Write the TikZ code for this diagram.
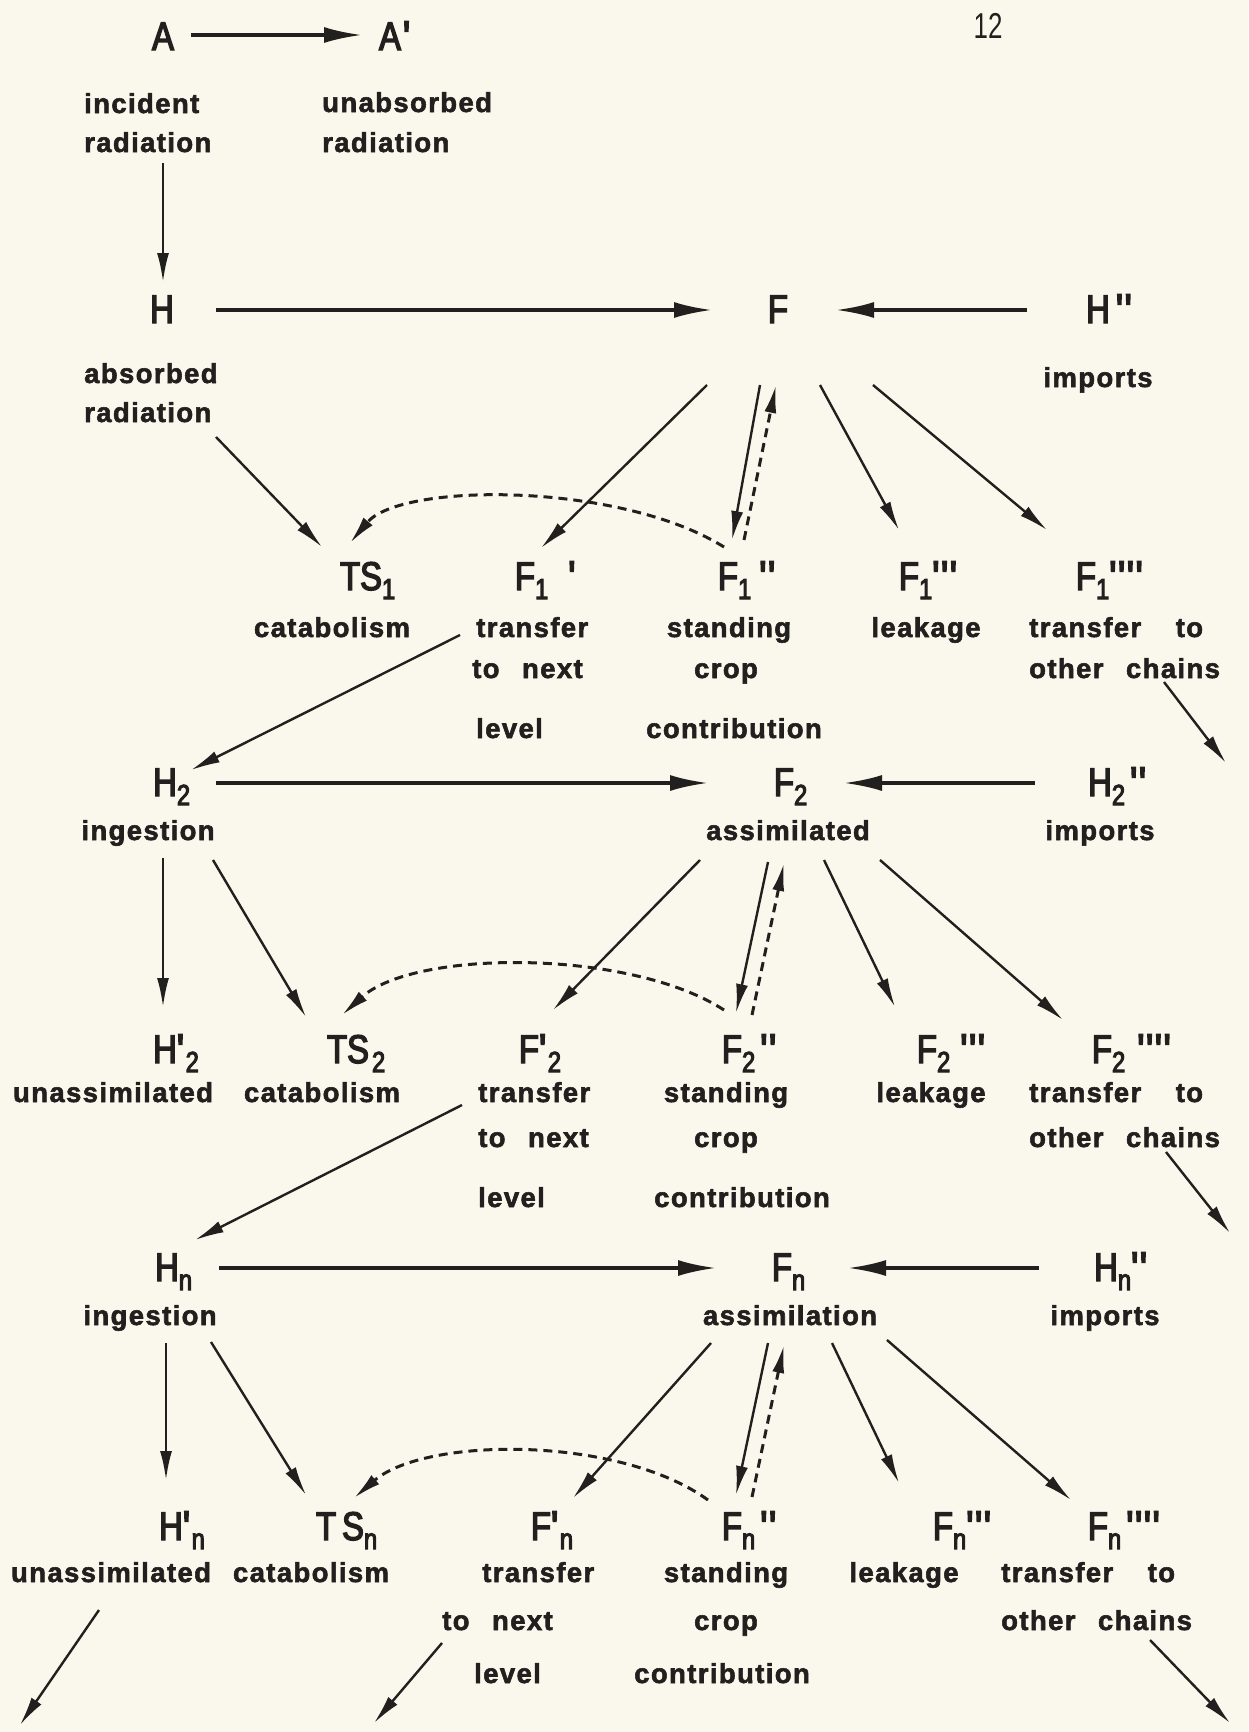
\documentclass[tikz,border=0pt]{standalone}
\usepackage{fontspec}
\setmainfont{Liberation Sans}
\newfontfamily\symfont{Liberation Sans}[FakeStretch=0.82,FakeBold=3.5]
\newfontfamily\labfont{Liberation Sans}[LetterSpace=5,WordSpace=2.5,BoldFeatures={FakeBold=2}]
\newfontfamily\numfont{Liberation Sans}[FakeStretch=0.72]
\usetikzlibrary{arrows.meta,calc}
\definecolor{ink}{RGB}{34,32,30}
\definecolor{paper}{RGB}{250,248,236}
\newcommand\sq{\XeTeXglyph\XeTeXcharglyph"27\relax}
\newcommand\sbx[1]{\raisebox{-9pt}{\fontsize{29}{29}\selectfont #1}}
\newcommand\ppx[1]{\raisebox{-3pt}{\fontsize{46}{46}\selectfont #1}}
\tikzset{
  sym/.style={anchor=base, inner sep=0pt, font=\symfont\fontsize{40}{40}\selectfont, text=ink},
  lab/.style={anchor=base, inner sep=0pt, font=\labfont\bfseries\fontsize{27.5}{27.5}\selectfont, text=ink},
  labl/.style={lab, anchor=base west},
  arw/.style={draw=ink, line width=2.4pt, -{Latex[length=29pt,width=12pt]}},
  harw/.style={draw=ink, line width=3.4pt, -{Latex[length=38pt,width=16pt]}},
  dsh/.style={draw=ink, line width=3pt, dash pattern=on 9pt off 6pt, -{Latex[length=28pt,width=12pt]}},
}
\begin{document}
\begin{tikzpicture}[x=1pt,y=-1pt]
\fill[paper] (0,0) rectangle (1248,1732);
\useasboundingbox (0,0) rectangle (1248,1732);

% ---- top rows
\node[sym] (A) at (163,50) {A};
\node[sym] (Ap) at (390,50) {A\rlap{\hspace{2pt}\ppx{\sq}}};
\node[sym,font=\numfont\fontsize{36}{36}\selectfont] (pg) at (988,38) {12};
\node[labl] (inc1) at (84,113) {incident};
\node[labl] (inc2) at (84,152) {radiation};
\node[labl] (un1) at (322,112) {unabsorbed};
\node[labl] (un2) at (322,152) {radiation};
\node[sym] (H) at (162,323) {H};
\node[sym] (F) at (778,323) {F};
\node[sym] (Hpp) at (1098,323) {H\rlap{\hspace{6pt}\ppx{\sq\sq}}};
\node[labl] (ab1) at (84,383) {absorbed};
\node[labl] (ab2) at (84,422) {radiation};
\node[lab] (imp1) at (1098,387) {imports};

% ---- level 1 outputs
\node[sym] (TS1) at (361,590) {TS\rlap{\sbx{1}}};
\node[sym] (F1p) at (525,590) {F\rlap{\sbx{1}\hspace{20pt}\ppx{\sq}}};
\node[sym] (F1pp) at (728,590) {F\rlap{\sbx{1}\hspace{8pt}\ppx{\sq\sq}}};
\node[sym] (F1ppp) at (909,590) {F\rlap{\sbx{1}\ppx{\sq\sq\sq}}};
\node[sym] (F1pppp) at (1086,590) {F\rlap{\sbx{1}\ppx{\sq\sq\sq\sq}}};
\node[lab] (cat1) at (332,637) {catabolism};
\node[labl] (tr1a) at (476,637) {transfer};
\node[labl] (tr1b) at (472,678) {to next};
\node[labl] (tr1c) at (476,738) {level};
\node[lab] (st1a) at (729,637) {standing};
\node[lab] (st1b) at (726,678) {crop};
\node[lab] (st1c) at (734,738) {contribution};
\node[lab] (lk1) at (926,637) {leakage};
\node[labl] (oc1a) at (1029,637) {transfer\hspace{12pt} to};
\node[labl] (oc1b) at (1029,678) {other chains};

% ---- level 2
\node[sym] (H2) at (165,796) {H\rlap{\sbx{2}}};
\node[sym] (F2) at (784,796) {F\rlap{\sbx{2}}};
\node[sym] (H2pp) at (1100,796) {H\rlap{\sbx{2}\hspace{5pt}\ppx{\sq\sq}}};
\node[lab] (ing2) at (148,840) {ingestion};
\node[lab] (as2) at (788,840) {assimilated};
\node[lab] (imp2) at (1100,840) {imports};

\node[sym] (H2p) at (165,1063) {H\rlap{\ppx{\sq}\sbx{2}}};
\node[sym] (TS2) at (348,1063) {TS\rlap{\hspace{3pt}\sbx{2}}};
\node[sym] (F2p) at (529,1063) {F\rlap{\ppx{\sq}\sbx{2}}};
\node[sym] (F2pp) at (732,1063) {F\rlap{\sbx{2}\hspace{5pt}\ppx{\sq\sq}}};
\node[sym] (F2ppp) at (927,1063) {F\rlap{\sbx{2}\hspace{10pt}\ppx{\sq\sq\sq}}};
\node[sym] (F2pppp) at (1102,1063) {F\rlap{\sbx{2}\hspace{12pt}\ppx{\sq\sq\sq\sq}}};
\node[lab] (un3) at (113,1102) {unassimilated};
\node[lab] (cat3) at (322,1102) {catabolism};
\node[labl] (tr3a) at (478,1102) {transfer};
\node[labl] (tr3b) at (478,1147) {to next};
\node[labl] (tr3c) at (478,1207) {level};
\node[lab] (st3a) at (726,1102) {standing};
\node[lab] (st3b) at (726,1147) {crop};
\node[lab] (st3c) at (742,1207) {contribution};
\node[lab] (lk3) at (931,1102) {leakage};
\node[labl] (oc3a) at (1029,1102) {transfer\hspace{12pt} to};
\node[labl] (oc3b) at (1029,1147) {other chains};

% ---- level n
\node[sym] (Hn) at (167,1281) {H\rlap{\sbx{n}}};
\node[sym] (Fn) at (782,1281) {F\rlap{\sbx{n}}};
\node[sym] (Hnpp) at (1106,1281) {H\rlap{\sbx{n}\ppx{\sq\sq}}};
\node[lab] (ingn) at (150,1325) {ingestion};
\node[lab] (asn) at (790,1325) {assimilation};
\node[lab] (impn) at (1105,1325) {imports};

\node[sym] (Hnp) at (171,1540) {H\rlap{\ppx{\sq}\sbx{n}}};
\node[sym] (TSn) at (340,1540) {T\hspace{6pt}S\rlap{\sbx{n}}};
\node[sym] (Fnp) at (541,1540) {F\rlap{\ppx{\sq}\sbx{n}}};
\node[sym] (Fnpp) at (732,1540) {F\rlap{\sbx{n}\hspace{5pt}\ppx{\sq\sq}}};
\node[sym] (Fnppp) at (943,1540) {F\rlap{\sbx{n}\ppx{\sq\sq\sq}}};
\node[sym] (Fnpppp) at (1098,1540) {F\rlap{\sbx{n}\hspace{5pt}\ppx{\sq\sq\sq\sq}}};
\node[lab] (unn) at (111,1582) {unassimilated};
\node[lab] (catn) at (311,1582) {catabolism};
\node[labl] (trna) at (482,1582) {transfer};
\node[labl] (trnb) at (442,1630) {to next};
\node[labl] (trnc) at (474,1683) {level};
\node[lab] (stna) at (726,1582) {standing};
\node[lab] (stnb) at (726,1630) {crop};
\node[lab] (stnc) at (722,1683) {contribution};
\node[lab] (lkn) at (904,1582) {leakage};
\node[labl] (ocna) at (1001,1582) {transfer\hspace{12pt} to};
\node[labl] (ocnb) at (1001,1630) {other chains};

\coordinate (e13) at (1226,763);
\coordinate (e25) at (1230,1233);
\coordinate (e36) at (20,1725);
\coordinate (e37) at (374,1723);
\coordinate (e38) at (1230,1723);

% ---- connectors, top
\draw[harw] ($(A.base)+(28,-15)$) -- ($(Ap.base)+(-28,-15)$);
\draw[arw] ($(inc2.base west)+(79,11)$) -- ($(H.base)+(1,-41)$);
\draw[harw] ($(H.base)+(54,-13)$) -- ($(F.base)+(-66,-13)$);
\draw[harw] ($(Hpp.base)+(-71,-13)$) -- ($(F.base)+(58,-13)$);
\draw[arw] ($(ab2.base west)+(132,15)$) -- ($(TS1.base)+(-39,-43)$);
\draw[arw] ($(F.base)+(-71,62)$) -- ($(F1p.base)+(16,-42)$);
\draw[arw] ($(F.base)+(-18,62)$) -- ($(F1pp.base)+(4,-50)$);
\draw[dsh] ($(F1pp.base)+(16,-50)$) -- ($(F.base)+(-2,62)$);
\draw[arw] ($(F.base)+(42,62)$) -- ($(F1ppp.base)+(-10,-60)$);
\draw[arw] ($(F.base)+(95,62)$) -- ($(F1pppp.base)+(-39,-60)$);
\draw[dsh] ($(F1pp.base)+(-4,-43)$) .. controls +(-104,-65) and +(51,-61) .. ($(TS1.base)+(-11,-47)$);

% ---- level 2
\draw[arw] ($(tr1a.base west)+(-16,-2)$) -- ($(H2.base)+(26,-26)$);
\draw[arw] ($(oc1b.base west)+(135,4)$) -- (e13);
\draw[harw] ($(H2.base)+(51,-13)$) -- ($(F2.base)+(-76,-13)$);
\draw[harw] ($(H2pp.base)+(-65,-13)$) -- ($(F2.base)+(60,-13)$);
\draw[arw] ($(ing2.base)+(15,18)$) -- ($(H2p.base)+(-2,-56)$);
\draw[arw] ($(ing2.base)+(65,20)$) -- ($(TS2.base)+(-42,-46)$);
\draw[arw] ($(as2.base)+(-88,20)$) -- ($(F2p.base)+(24,-53)$);
\draw[arw] ($(as2.base)+(-20,22)$) -- ($(F2pp.base)+(4,-50)$);
\draw[dsh] ($(F2pp.base)+(20,-48)$) -- ($(as2.base)+(-4,23)$);
\draw[arw] ($(as2.base)+(36,20)$) -- ($(F2ppp.base)+(-32,-56)$);
\draw[arw] ($(as2.base)+(92,20)$) -- ($(F2pppp.base)+(-39,-43)$);
\draw[dsh] ($(F2pp.base)+(-8,-53)$) .. controls +(-94,-61) and +(73,-66) .. ($(TS2.base)+(-6,-48)$);

% ---- level n
\draw[arw] ($(tr3a.base west)+(-16,3)$) -- ($(Hn.base)+(28,-41)$);
\draw[arw] ($(oc3b.base west)+(137,5)$) -- (e25);
\draw[harw] ($(Hn.base)+(52,-13)$) -- ($(Fn.base)+(-66,-13)$);
\draw[harw] ($(Hnpp.base)+(-67,-13)$) -- ($(Fn.base)+(66,-13)$);
\draw[arw] ($(ingn.base)+(16,18)$) -- ($(Hnp.base)+(-5,-60)$);
\draw[arw] ($(ingn.base)+(61,17)$) -- ($(TSn.base)+(-34,-45)$);
\draw[arw] ($(asn.base)+(-79,18)$) -- ($(Fnp.base)+(32,-42)$);
\draw[arw] ($(asn.base)+(-22,18)$) -- ($(Fnpp.base)+(4,-45)$);
\draw[dsh] ($(Fnpp.base)+(20,-43)$) -- ($(asn.base)+(-6,20)$);
\draw[arw] ($(asn.base)+(42,18)$) -- ($(Fnppp.base)+(-44,-57)$);
\draw[arw] ($(asn.base)+(97,15)$) -- ($(Fnpppp.base)+(-27,-40)$);
\draw[dsh] ($(Fnpp.base)+(-24,-40)$) .. controls +(-88,-64) and +(72,-62) .. ($(TSn.base)+(14,-42)$);
\draw[arw] ($(unn.base)+(-12,28)$) -- (e36);
\draw[arw] ($(trnb.base west)+(0,13)$) -- (e37);
\draw[arw] ($(ocnb.base west)+(149,10)$) -- (e38);
\end{tikzpicture}
\end{document}
